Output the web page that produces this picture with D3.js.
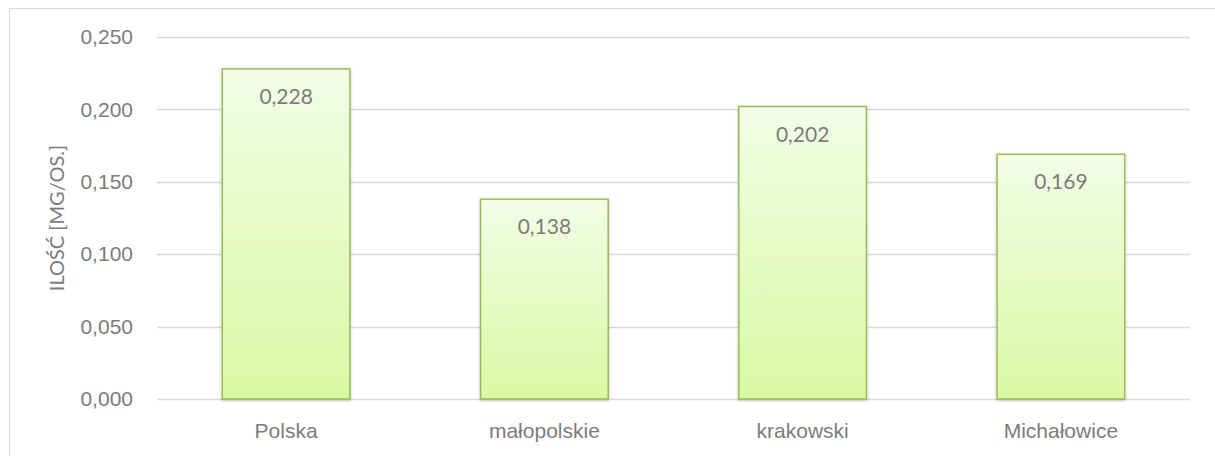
<!DOCTYPE html>
<html>
<head>
<meta charset="utf-8">
<script src="https://cdn.jsdelivr.net/npm/d3@7"></script>
<style>
  body { margin: 0; background: #fff; }
  svg { display: block; font-family: Lato, "Open Sans", sans-serif; }
  .tick text { fill: #7c7c7c; font-size: 21px; }
</style>
</head>
<body>
<div id="chart"></div>
<script>
// dane z wykresu
const categories = ["Polska", "małopolskie", "krakowski", "Michałowice"]
const values = [0.228, 0.138, 0.202, 0.169]
const yTicks = [0, 0.05, 0.1, 0.15, 0.2, 0.25]
const yTitle = "ILOŚĆ [MG/OS.]"

const W = 1215, H = 456
const margin = {top: 37, right: 25, bottom: 57, left: 157}
const width = W - margin.left - margin.right,
      height = H - margin.top - margin.bottom

const fmt = v => d3.format(".3f")(v).replace(".", ",")

const svg = d3.select("#chart")
  .append("svg")
  .attr("width", W)
  .attr("height", H)

// ramka wykresu
svg.append("rect")
  .attr("x", 9.5).attr("y", 8.5)
  .attr("width", W + 20).attr("height", H + 20)
  .attr("fill", "none")
  .attr("stroke", "#d9d9d9")

const defs = svg.append("defs")
const grad = defs.append("linearGradient")
  .attr("id", "barGrad")
  .attr("x1", 0).attr("y1", 0).attr("x2", 0).attr("y2", 1)
grad.append("stop").attr("offset", "0%").attr("stop-color", "#f3fde6")
grad.append("stop").attr("offset", "100%").attr("stop-color", "#d8f9a4")

const shadow = defs.append("filter").attr("id", "shadow")
  .attr("x", "-10%").attr("y", "-10%").attr("width", "120%").attr("height", "120%")
shadow.append("feDropShadow")
  .attr("dx", 0).attr("dy", 1).attr("stdDeviation", 1.5)
  .attr("flood-color", "#000").attr("flood-opacity", 0.25)

const g = svg.append("g")
  .attr("transform", "translate(" + margin.left + "," + margin.top + ")")

const x = d3.scaleBand()
  .domain(categories)
  .range([0, width])
  .paddingInner(0.5)
  .paddingOuter(0.25)

const y = d3.scaleLinear()
  .domain([0, 0.25])
  .range([height, 0])

// siatka
g.append("g")
  .selectAll("line")
  .data(yTicks)
  .enter()
  .append("line")
  .attr("x1", 0).attr("x2", width)
  .attr("y1", d => Math.round(y(d)) + 0.5)
  .attr("y2", d => Math.round(y(d)) + 0.5)
  .attr("stroke", "#d9d9d9")
  .attr("stroke-width", 1.5)

const yaxis = d3.axisLeft(y)
  .tickValues(yTicks)
  .tickFormat(fmt)
  .tickSize(0)
  .tickPadding(24)

g.append("g")
  .call(yaxis)
  .call(a => a.select(".domain").remove())

const xaxis = d3.axisBottom(x)
  .tickSize(0)
  .tickPadding(24)

g.append("g")
  .attr("transform", "translate(0," + height + ")")
  .call(xaxis)
  .call(a => a.select(".domain").remove())

// słupki
g.selectAll(".bar")
  .data(values)
  .enter()
  .append("rect")
  .attr("class", "bar")
  .attr("x", (d, i) => x(categories[i]) + 0.75)
  .attr("y", d => y(d))
  .attr("width", x.bandwidth() - 1.5)
  .attr("height", d => height - y(d))
  .attr("fill", "url(#barGrad)")
  .attr("stroke", "#9bbb59")
  .attr("stroke-width", 1.5)
  .attr("filter", "url(#shadow)")

g.selectAll(".val")
  .data(values)
  .enter()
  .append("text")
  .attr("class", "val")
  .attr("x", (d, i) => x(categories[i]) + x.bandwidth() / 2)
  .attr("y", d => y(d) + 35)
  .attr("text-anchor", "middle")
  .attr("fill", "#7c7c7c")
  .style("font-size", "21px")
  .text(fmt)

svg.append("text")
  .attr("transform", "translate(64," + (margin.top + height / 2) + ") rotate(-90)")
  .attr("text-anchor", "middle")
  .attr("fill", "#7c7c7c")
  .style("font-size", "20px")
  .text(yTitle)
</script>
</body>
</html>
